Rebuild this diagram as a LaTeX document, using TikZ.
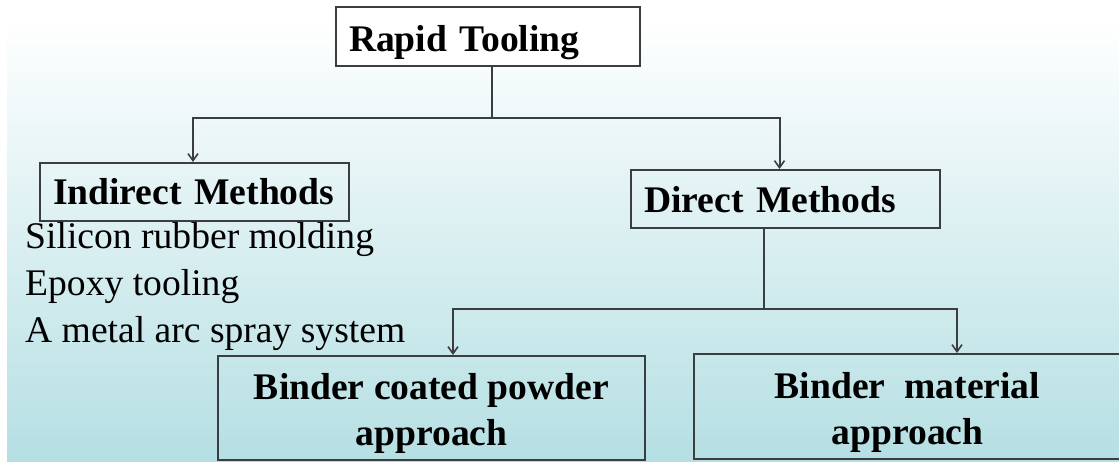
\documentclass[tikz,border=0pt]{standalone}
\usepackage{fontspec}
\setmainfont{Liberation Serif}
\usetikzlibrary{arrows.meta}
\definecolor{bgb}{RGB}{181,223,227}
\definecolor{edgec}{RGB}{58,62,64}
\begin{document}
\begin{tikzpicture}[x=1pt,y=1pt,
  bigfont/.style={font=\fontsize{37.6}{46}\selectfont},
  box/.style={draw=edgec, line width=2pt, inner ysep=0pt, inner xsep=13pt, bigfont},
  headbox/.style={box, minimum height=58pt, text width=#1, align=left, text depth=0pt, font=\fontsize{37.6}{46}\selectfont\bfseries},
  leafbox/.style={box, minimum width=427pt, align=center, font=\fontsize{37.6}{46}\selectfont\bfseries},
  item/.style={anchor=base west, inner sep=0pt, bigfont},
  conn/.style={draw=edgec, line width=2pt},
  arr/.style={conn, -{Straight Barb[length=7pt,width=10pt,line width=1.6pt]}}]
\useasboundingbox (0,0) rectangle (1119,462);
\fill[white] (0,0) rectangle (1119,462);
\shade[top color=white, bottom color=bgb] (7,0) rectangle (1119,442);
\begin{scope}[yshift=462pt, y=-1pt]
  \node[headbox=278pt, fill=white, minimum height=59pt, text height=31pt] (rapid) at (488,36.5) {Rapid Tooling};
  \node[headbox=283pt, text height=26pt] (indirect) at (194.5,192) {Indirect Methods};
  \node[headbox=283pt, text height=28pt] (direct) at (785.5,199) {Direct Methods};
  \node[item] (l1) at (25,249) {Silicon rubber molding};
  \node[item] (l2) at (25,296) {Epoxy tooling};
  \node[item] (l3) at (25,343) {A metal arc spray system};
  \node[leafbox, minimum height=104pt] (bcp) at (431.5,408) {\rule{0pt}{38pt}Binder coated powder\\approach};
  \node[leafbox, minimum height=105pt] (bm) at (907.5,406.5) {\rule{0pt}{38pt}Binder\ \ material\\approach};
  \coordinate (j1) at (492,118);
  \coordinate (j2) at (764,309);
  \draw[conn] (rapid.south -| j1) -- (j1);
  \draw[arr] (j1) -| ([xshift=-1.5pt]indirect.north);
  \draw[arr] (j1) -| ([xshift=-6pt]direct.north);
  \draw[conn] (direct.south -| j2) -- (j2);
  \draw[arr] (j2) -| ([xshift=21.5pt]bcp.north);
  \draw[arr] (j2) -| ([xshift=49.5pt]bm.north);
\end{scope}
\end{tikzpicture}
\end{document}
